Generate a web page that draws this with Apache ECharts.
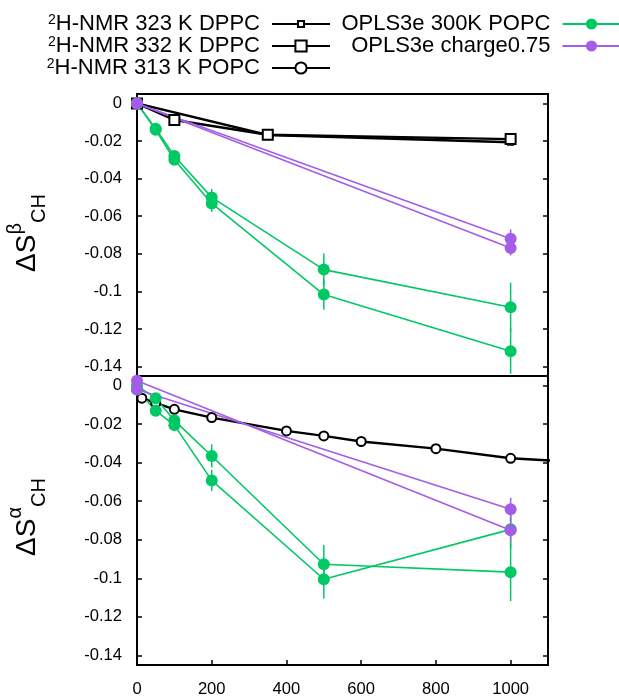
<!DOCTYPE html>
<html><head><meta charset="utf-8">
<script src="https://cdn.jsdelivr.net/npm/echarts@6/dist/echarts.min.js"></script>
<style>html,body{margin:0;padding:0;background:#fff}#c{width:619px;height:699px}</style>
</head><body><div id="c"></div>
<script>
// ---------------- data ----------------
const xTicks = [0, 200, 400, 600, 800, 1000];
const yTicks = [0, -0.02, -0.04, -0.06, -0.08, -0.1, -0.12, -0.14];
const seriesNames = ['2H-NMR 323 K DPPC', '2H-NMR 332 K DPPC', '2H-NMR 313 K POPC', 'OPLS3e 300K POPC', 'OPLS3e charge0.75'];

// top panel: beta
const dppc323Conc = [0, 350, 1000];
const dppc323Beta = [0, -0.0168, -0.0207];
const dppc332Conc = [0, 100, 350, 1000];
const dppc332Beta = [0, -0.0088, -0.0167, -0.0190];
const oplsConc = [0, 50, 100, 200, 500, 1000];
const oplsBeta1 = [0, -0.0135, -0.0280, -0.0500, -0.0884, -0.1084];
const oplsBeta1Err = [0, 0.0015, 0.002, 0.0045, 0.0085, 0.013];
const oplsBeta2 = [0, -0.0140, -0.0300, -0.0532, -0.1017, -0.1318];
const oplsBeta2Err = [0, 0.0015, 0.002, 0.0045, 0.008, 0.012];
const chargeConc = [0, 1000];
const chargeBeta1 = [0, -0.0720];
const chargeBeta1Err = [0, 0.005];
const chargeBeta2 = [0, -0.0769];
const chargeBeta2Err = [0, 0.004];

// bottom panel: alpha
const popc313Conc = [0, 13, 50, 100, 200, 400, 500, 600, 800, 1000, 2000];
const popc313Alpha = [-0.002, -0.0065, -0.009, -0.0123, -0.0166, -0.0235, -0.0261, -0.0290, -0.0327, -0.0377, -0.0490];
const oplsAlpha1 = [0, -0.0065, -0.0180, -0.0365, -0.0927, -0.0968];
const oplsAlpha1Err = [0, 0.002, 0.003, 0.006, 0.010, 0.015];
const oplsAlpha2 = [-0.002, -0.0130, -0.0205, -0.0492, -0.1005, -0.0746];
const oplsAlpha2Err = [0, 0.002, 0.003, 0.0055, 0.010, 0.010];
const chargeAlpha1 = [0.0025, -0.0751];
const chargeAlpha1Err = [0, 0.006];
const chargeAlpha2 = [-0.002, -0.0642];
const chargeAlpha2Err = [0, 0.006];

// ---------------- styles ----------------
const FONT = '"Liberation Sans", Arial, Helvetica, sans-serif';
const GREEN = '#00c864';
const PURPLE = '#a45de6';
const BLACK = '#000';

function pairs(xs, ys) { return xs.map((x, i) => [x, ys[i]]); }
function triples(xs, ys, es) { return xs.map((x, i) => [x, ys[i], es[i]]); }

function lineSeries(name, panel, data, color, symbol, size, width) {
  return {
    type: 'line', name, xAxisIndex: panel, yAxisIndex: panel * 2, data,
    symbol, symbolSize: size, showSymbol: true, clip: true,
    lineStyle: { color, width }, itemStyle: { color },
    emphasis: { disabled: true }, animation: false
  };
}
function errSeries(panel, data, color) {
  return {
    type: 'custom', xAxisIndex: panel, yAxisIndex: panel * 2, data, clip: true,
    animation: false, silent: true,
    renderItem: (p, api) => {
      const x = api.value(0), y = api.value(1), e = api.value(2);
      if (!e) return null;
      const a = api.coord([x, y + e]), b = api.coord([x, y - e]);
      return { type: 'line', shape: { x1: a[0], y1: a[1], x2: b[0], y2: b[1] }, style: { stroke: color, lineWidth: 1.5 } };
    }
  };
}

const series = [
  // top (beta)
  lineSeries(seriesNames[0], 0, pairs(dppc323Conc, dppc323Beta), BLACK, 'emptyRect', 5, 2.4),
  lineSeries(seriesNames[1], 0, pairs(dppc332Conc, dppc332Beta), BLACK, 'emptyRect', 10, 2.4),
  errSeries(0, triples(oplsConc, oplsBeta1, oplsBeta1Err), GREEN),
  errSeries(0, triples(oplsConc, oplsBeta2, oplsBeta2Err), GREEN),
  lineSeries(seriesNames[3], 0, pairs(oplsConc, oplsBeta1), GREEN, 'circle', 12, 1.6),
  lineSeries(seriesNames[3], 0, pairs(oplsConc, oplsBeta2), GREEN, 'circle', 12, 1.6),
  errSeries(0, triples(chargeConc, chargeBeta1, chargeBeta1Err), PURPLE),
  errSeries(0, triples(chargeConc, chargeBeta2, chargeBeta2Err), PURPLE),
  lineSeries(seriesNames[4], 0, pairs(chargeConc, chargeBeta1), PURPLE, 'circle', 12, 1.6),
  lineSeries(seriesNames[4], 0, pairs(chargeConc, chargeBeta2), PURPLE, 'circle', 12, 1.6),
  // bottom (alpha)
  lineSeries(seriesNames[2], 1, pairs(popc313Conc, popc313Alpha), BLACK, 'emptyCircle', 9, 2.4),
  errSeries(1, triples(oplsConc, oplsAlpha1, oplsAlpha1Err), GREEN),
  errSeries(1, triples(oplsConc, oplsAlpha2, oplsAlpha2Err), GREEN),
  lineSeries(seriesNames[3], 1, pairs(oplsConc, oplsAlpha1), GREEN, 'circle', 12, 1.6),
  lineSeries(seriesNames[3], 1, pairs(oplsConc, oplsAlpha2), GREEN, 'circle', 12, 1.6),
  errSeries(1, triples(chargeConc, chargeAlpha1, chargeAlpha1Err), PURPLE),
  errSeries(1, triples(chargeConc, chargeAlpha2, chargeAlpha2Err), PURPLE),
  lineSeries(seriesNames[4], 1, pairs(chargeConc, chargeAlpha1), PURPLE, 'circle', 12, 1.6),
  lineSeries(seriesNames[4], 1, pairs(chargeConc, chargeAlpha2), PURPLE, 'circle', 12, 1.6)
];

const tickStyle = { color: BLACK, width: 1.5 };
function yAxes(grid) {
  const base = { gridIndex: grid, type: 'value', min: -0.145, max: 0.005, splitLine: { show: false },
    axisLine: { show: false, onZero: false } };
  return [
    Object.assign({}, base, { position: 'left',
      axisTick: { show: true, inside: true, length: 5, lineStyle: tickStyle, customValues: yTicks },
      axisLabel: { show: true, customValues: yTicks, color: BLACK, fontSize: 16.6, fontFamily: FONT, margin: 15,
        formatter: v => String(v) } }),
    Object.assign({}, base, { position: 'right',
      axisTick: { show: true, inside: true, length: 5, lineStyle: tickStyle, customValues: yTicks },
      axisLabel: { show: false } })
  ];
}

const legendRich = {
  t: { fontSize: 22, lineHeight: 22, fontFamily: FONT, color: BLACK },
  s: { fontSize: 14, lineHeight: 10, verticalAlign: 'top', fontFamily: FONT, color: BLACK },
  g: { width: 7, fontSize: 22, lineHeight: 22, fontFamily: FONT }
};
function legendFmt(name) {
  const m = name.match(/^2H(.*)$/);
  return m ? '{s|2}{t|H' + m[1] + '}{g| }' : '{t|' + name + '}{g| }';
}
const legendBase = { orient: 'vertical', align: 'right', top: 13, itemWidth: 58, itemHeight: 14, itemGap: 0,
  padding: 0, selectedMode: false, formatter: legendFmt, textStyle: { rich: legendRich, color: BLACK } };

const option = {
  backgroundColor: '#fff',
  animation: false,
  grid: [
    { left: 137, top: 94, width: 411, height: 282, show: true, borderColor: BLACK, borderWidth: 2, backgroundColor: 'transparent' },
    { left: 137, top: 376, width: 411, height: 289, show: true, borderColor: BLACK, borderWidth: 2, backgroundColor: 'transparent' }
  ],
  xAxis: [
    { gridIndex: 0, type: 'value', min: 0, max: 1100, show: false, position: 'bottom', axisLine: { show: false, onZero: false } },
    { gridIndex: 1, type: 'value', min: 0, max: 1100, position: 'bottom', axisLine: { show: false, onZero: false }, splitLine: { show: false },
      axisTick: { show: true, inside: true, length: 5, lineStyle: tickStyle, customValues: xTicks },
      axisLabel: { customValues: xTicks, color: BLACK, fontSize: 16.6, fontFamily: FONT, margin: 16,
        formatter: v => String(v) } }
  ],
  yAxis: yAxes(0).concat(yAxes(1)),
  legend: [
    Object.assign({}, legendBase, { right: 288, data: [
      { name: seriesNames[0], icon: 'path://M0,7H26M32,7H58M26,4H32V10H26ZM29,0M29,14', itemStyle: { color: '#fff', borderColor: BLACK, borderWidth: 2 } },
      seriesNames[1], seriesNames[2]] }),
    Object.assign({}, legendBase, { right: -2.5, data: [seriesNames[3], seriesNames[4]] })
  ],
  graphic: [
    { type: 'text', x: 27, y: 233, rotation: Math.PI / 2, silent: true,
      style: { text: '{d|ΔS}{u|β}{c|CH}', align: 'center', verticalAlign: 'middle',
        rich: { d: { fontSize: 28, lineHeight: 44, fontFamily: FONT, fill: BLACK },
                u: { fontSize: 20, lineHeight: 20, verticalAlign: 'top', fontFamily: FONT, fill: BLACK },
                c: { fontSize: 20, lineHeight: 26, verticalAlign: 'bottom', fontFamily: FONT, fill: BLACK } } } },
    { type: 'text', x: 27, y: 517, rotation: Math.PI / 2, silent: true,
      style: { text: '{d|ΔS}{u|α}{c|CH}', align: 'center', verticalAlign: 'middle',
        rich: { d: { fontSize: 28, lineHeight: 44, fontFamily: FONT, fill: BLACK },
                u: { fontSize: 20, lineHeight: 20, verticalAlign: 'top', fontFamily: FONT, fill: BLACK },
                c: { fontSize: 20, lineHeight: 26, verticalAlign: 'bottom', fontFamily: FONT, fill: BLACK } } } }
  ],
  series
};

const chart = echarts.init(document.getElementById('c'), null, { renderer: 'canvas' });
chart.setOption(option);
</script>
</body></html>
